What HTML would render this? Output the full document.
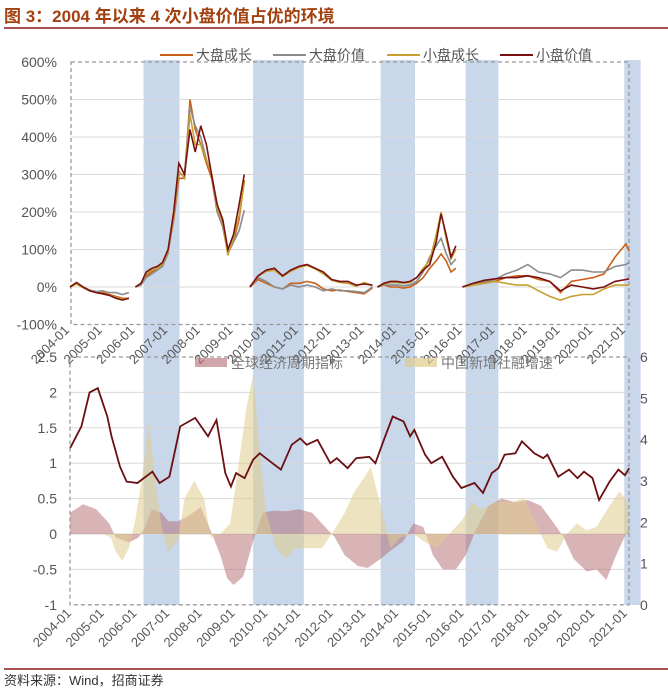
<!DOCTYPE html>
<html><head><meta charset="utf-8"><style>
body{margin:0;background:#fff;}
svg{display:block;font-family:"Liberation Sans","Noto Sans CJK SC",sans-serif;}
</style></head><body>
<svg id="c" width="668" height="691" viewBox="0 0 668 691">
<text x="4" y="22" font-size="17" font-weight="bold" fill="#a3400f">图 3：2004 年以来 4 次小盘价值占优的环境</text>
<line x1="4" y1="28" x2="668" y2="28" stroke="#8b1a1a" stroke-width="1.5"/>
<g id="bands"></g>
<g id="topchart"></g>
<g id="botchart"></g>
<g font-size="14" fill="#555">
<line x1="160" y1="55" x2="193" y2="55" stroke="#c8611a" stroke-width="2"/>
<text x="196" y="60">大盘成长</text>
<line x1="273" y1="55" x2="306" y2="55" stroke="#8c8c8c" stroke-width="2"/>
<text x="309" y="60">大盘价值</text>
<line x1="387" y1="55" x2="420" y2="55" stroke="#c6a030" stroke-width="2"/>
<text x="423" y="60">小盘成长</text>
<line x1="500" y1="55" x2="533" y2="55" stroke="#7a1010" stroke-width="2"/>
<text x="536" y="60">小盘价值</text>
</g>
<line x1="4" y1="669" x2="668" y2="669" stroke="#8b1a1a" stroke-width="1.5"/>
<text x="4" y="685" font-size="13" fill="#333">资料来源：Wind，招商证券</text>
</svg>
<script>
const NS='http://www.w3.org/2000/svg';
// ---- data ----
const bandStarts=[2006.25,2009.6,2013.5,2016.1,2020.95];
const bandEnds=[2007.35,2011.15,2014.55,2017.1,2021.45];
const years=['2004-01','2005-01','2006-01','2007-01','2008-01','2009-01','2010-01','2011-01','2012-01','2013-01','2014-01','2015-01','2016-01','2017-01','2018-01','2019-01','2020-01','2021-01'];
const topTicks=[600,500,400,300,200,100,0,-100];
const leftTicks=[2.5,2,1.5,1,0.5,0,-0.5,-1];
const rightTicks=[6,5,4,3,2,1,0];
// top segments
const seg1Dates=[2004.0,2004.2,2004.4,2004.6,2004.8,2005.0,2005.2,2005.4,2005.6,2005.8];
const seg1LG=[0,10,0,-10,-15,-15,-20,-25,-30,-30];
const seg1LV=[0,10,0,-8,-12,-10,-15,-15,-20,-15];
const seg1SG=[0,8,-2,-10,-15,-18,-22,-28,-33,-30];
const seg1SV=[0,12,0,-10,-15,-18,-22,-30,-35,-30];
const seg2Dates=[2006.0,2006.17,2006.33,2006.5,2006.67,2006.83,2007.0,2007.17,2007.33,2007.5,2007.67,2007.83,2008.0,2008.17,2008.33,2008.5,2008.67,2008.83,2009.0,2009.17,2009.33];
const seg2LG=[0,8,30,40,50,60,95,180,290,290,500,420,380,330,290,200,180,90,120,180,285];
const seg2LV=[0,5,25,35,45,55,90,190,300,300,480,430,400,340,300,200,160,90,120,150,205];
const seg2SG=[0,10,35,45,50,60,95,190,310,290,460,380,380,340,300,210,170,85,130,190,280];
const seg2SV=[0,10,40,50,55,65,100,200,330,300,420,360,430,380,300,220,180,100,140,220,300];
const seg3Dates=[2009.5,2009.75,2010.0,2010.25,2010.5,2010.75,2011.0,2011.25,2011.5,2011.75,2012.0,2012.25,2012.5,2012.75,2013.0,2013.25];
const seg3LG=[0,20,10,0,-5,10,10,15,10,-5,-10,-8,-12,-15,-18,-2];
const seg3LV=[0,25,15,0,-5,5,0,5,0,-10,-5,-10,-10,-12,-15,0];
const seg3SG=[0,28,42,45,28,42,52,58,48,35,18,12,10,2,12,3];
const seg3SV=[0,30,45,50,30,45,55,60,50,40,20,15,15,5,8,5];
const seg4Dates=[2013.4,2013.6,2013.8,2014.0,2014.2,2014.4,2014.6,2014.8,2015.0,2015.2,2015.35,2015.5,2015.65,2015.8];
const seg4LG=[0,5,0,0,-3,0,10,25,50,70,88,70,40,50];
const seg4LV=[0,5,5,5,3,5,15,40,80,110,130,90,60,75];
const seg4SG=[0,8,12,12,10,12,25,50,70,140,200,130,75,100];
const seg4SV=[0,10,15,15,12,15,25,45,60,120,195,140,80,110];
const seg5Dates=[2016.0,2016.33,2016.67,2017.0,2017.33,2017.67,2018.0,2018.33,2018.67,2019.0,2019.33,2019.67,2020.0,2020.33,2020.67,2021.0,2021.1];
const seg5LG=[0,5,12,15,25,30,30,20,15,-15,15,20,25,35,80,115,95];
const seg5LV=[0,8,15,20,35,45,60,40,35,25,45,45,40,40,55,60,65];
const seg5SG=[0,5,10,15,10,5,5,-10,-25,-35,-25,-20,-20,-5,5,5,5];
const seg5SV=[0,10,18,22,25,25,30,25,15,-10,5,0,-5,0,15,20,22];
// bottom
const lineDates=[2004.0,2004.35,2004.6,2004.85,2005.14,2005.27,2005.53,2005.73,2006.06,2006.52,2006.74,2007.04,2007.37,2007.83,2008.22,2008.48,2008.75,2008.92,2009.08,2009.34,2009.6,2009.8,2010.19,2010.45,2010.78,2011.04,2011.24,2011.57,2011.96,2012.16,2012.49,2012.75,2013.15,2013.34,2013.6,2013.87,2014.2,2014.4,2014.53,2014.86,2015.05,2015.38,2015.71,2015.97,2016.37,2016.63,2016.9,2017.1,2017.29,2017.62,2017.82,2018.2,2018.47,2018.6,2018.93,2019.26,2019.52,2019.72,2019.98,2020.18,2020.5,2020.77,2020.97,2021.1];
const lineVals=[1.21,1.52,2.0,2.06,1.66,1.38,0.95,0.74,0.72,0.88,0.72,0.81,1.52,1.64,1.38,1.61,0.86,0.67,0.86,0.79,1.05,1.14,1.0,0.91,1.26,1.35,1.26,1.33,1.0,1.07,0.93,1.07,1.09,1.0,1.33,1.66,1.59,1.38,1.47,1.12,1.0,1.09,0.81,0.65,0.72,0.58,0.86,0.93,1.12,1.14,1.31,1.14,1.07,1.12,0.81,0.91,0.79,0.88,0.79,0.48,0.74,0.91,0.83,0.93];
const globalDates=[2004.0,2004.4,2004.8,2005.2,2005.4,2005.8,2006.1,2006.3,2006.5,2006.8,2007.0,2007.3,2007.6,2008.0,2008.3,2008.6,2008.8,2009.0,2009.3,2009.6,2009.9,2010.2,2010.6,2011.0,2011.4,2011.8,2012.1,2012.4,2012.8,2013.1,2013.5,2013.9,2014.2,2014.5,2014.8,2015.1,2015.4,2015.8,2016.1,2016.4,2016.8,2017.2,2017.6,2018.0,2018.4,2018.8,2019.1,2019.4,2019.8,2020.1,2020.4,2020.7,2021.0,2021.1];
const globalVals=[0.3,0.42,0.35,0.15,-0.05,-0.12,-0.05,0.1,0.35,0.3,0.18,0.18,0.25,0.38,0.05,-0.3,-0.62,-0.72,-0.6,-0.1,0.3,0.33,0.32,0.35,0.3,0.1,-0.05,-0.3,-0.45,-0.48,-0.35,-0.2,-0.1,0.15,0.1,-0.3,-0.5,-0.5,-0.3,0.05,0.4,0.5,0.45,0.48,0.4,0.15,-0.05,-0.35,-0.53,-0.5,-0.65,-0.3,0.0,0.1];
const tsfDates=[2004.0,2005.0,2005.25,2005.4,2005.6,2005.8,2006.0,2006.2,2006.4,2006.6,2006.8,2007.0,2007.3,2007.5,2007.8,2008.1,2008.3,2008.6,2008.9,2009.1,2009.4,2009.6,2009.8,2010.0,2010.3,2010.6,2010.9,2011.3,2011.7,2012.0,2012.4,2012.7,2013.0,2013.2,2013.5,2013.8,2014.1,2014.5,2014.8,2015.2,2015.6,2016.0,2016.3,2016.6,2017.0,2017.5,2017.9,2018.2,2018.6,2018.9,2019.2,2019.5,2019.8,2020.1,2020.5,2020.8,2021.0,2021.1];
const tsfVals=[0,0,-0.05,-0.25,-0.38,-0.2,0.2,0.8,1.6,0.8,0.1,-0.25,-0.1,0.5,0.75,0.5,-0.05,0.0,0.15,0.8,1.8,2.25,1.2,0.3,-0.2,-0.35,-0.2,-0.2,-0.2,0.0,0.3,0.6,0.8,0.95,0.4,-0.2,-0.05,0.0,-0.1,-0.2,0.0,0.2,0.45,0.35,0.45,0.45,0.5,0.2,-0.2,-0.25,0.0,0.15,0.05,0.1,0.4,0.6,0.5,0.3];
// ---- scales ----
const X0=70,XPY=32.7;
function x(d){return X0+(d-2004)*XPY;}
function yT(v){return 287-v*0.375;}
function yB(v){return 534-v*70.8;}
function yR(v){return 605-v*(248/6);}
function mk(tag,attrs,parent){const e=document.createElementNS(NS,tag);for(const k in attrs)e.setAttribute(k,attrs[k]);parent.appendChild(e);return e;}
const bandsG=document.getElementById('bands'),topG=document.getElementById('topchart'),botG=document.getElementById('botchart');
bandStarts.forEach((s,i)=>{
 const r=mk('rect',{x:x(s),y:60,width:x(bandEnds[i])-x(s),height:545,fill:'#c8d7ea'},bandsG);
 
 
});
topTicks.forEach(t=>{
 if(t<600&&t>-100){const g=mk('line',{x1:71,x2:629,y1:yT(t),y2:yT(t),stroke:'#d9d9d9','stroke-width':1},topG);
 
 }
 const tx=mk('text',{x:57,y:yT(t)+5,'text-anchor':'end','font-size':14,fill:'#555'},topG);tx.textContent=t+'%';
 
 
});
const tb=mk('rect',{x:71,y:yT(600),width:558,height:yT(-100)-yT(600),fill:'none',stroke:'#999','stroke-dasharray':'4,3','stroke-width':1.3},topG);


function path(ds,vs,yf){return ds.map((d,i)=>(i?'L':'M')+x(d).toFixed(1)+','+yf(vs[i]).toFixed(1)).join('');}
const segs=[[seg1Dates,seg1LG,seg1LV,seg1SG,seg1SV],[seg2Dates,seg2LG,seg2LV,seg2SG,seg2SV],[seg3Dates,seg3LG,seg3LV,seg3SG,seg3SV],[seg4Dates,seg4LG,seg4LV,seg4SG,seg4SV],[seg5Dates,seg5LG,seg5LV,seg5SG,seg5SV]];
const cols=['#c8611a','#8c8c8c','#c6a030','#7a1010'];
const names=['large-growth-line','large-value-line','small-growth-line','small-value-line'];
segs.forEach(s=>{for(let k=0;k<4;k++){
 const p=mk('path',{d:path(s[0],s[k+1],yT),fill:'none',stroke:cols[k],'stroke-width':1.6},topG);
 
 
}});
years.forEach((y,i)=>{
 const xx=x(2004+i);
 const t=mk('text',{x:xx,y:331,'text-anchor':'end','font-size':13,fill:'#555',transform:'rotate(-45 '+xx+' 331)'},topG);t.textContent=y;
 
 
 const t2=mk('text',{x:xx+2,y:614,'text-anchor':'end','font-size':13,fill:'#555',transform:'rotate(-45 '+(xx+2)+' 614)'},botG);t2.textContent=y;
 
 
});
leftTicks.forEach(t=>{
 if(t<2.5&&t>-1){const g=mk('line',{x1:70,x2:629,y1:yB(t),y2:yB(t),stroke:'#d9d9d9','stroke-width':1},botG);
 
 }
 const tx=mk('text',{x:57,y:yB(t)+5,'text-anchor':'end','font-size':14,fill:'#555'},botG);tx.textContent=String(t);
 
 
});
rightTicks.forEach(t=>{
 const tx=mk('text',{x:640,y:yR(t)+5,'font-size':14,fill:'#555'},botG);tx.textContent=String(t);
 
 
});
function area(ds,vs){return path(ds,vs,yB)+'L'+x(ds[ds.length-1]).toFixed(1)+','+yB(0)+'L'+x(ds[0]).toFixed(1)+','+yB(0)+'Z';}
const a1=mk('path',{d:area(globalDates,globalVals),fill:'rgba(178,105,112,0.5)'},botG);


const a2=mk('path',{d:area(tsfDates,tsfVals),fill:'rgba(222,204,140,0.55)'},botG);


const bl=mk('path',{d:path(lineDates,lineVals,yB),fill:'none',stroke:'#6b0f12','stroke-width':1.8},botG);


const bb=mk('rect',{x:70,y:yB(2.5),width:559,height:yB(-1)-yB(2.5),fill:'none',stroke:'#999','stroke-dasharray':'4,3','stroke-width':1.3},botG);


const s1=mk('rect',{x:195,y:358,width:32,height:9,fill:'rgba(178,105,112,0.6)'},botG);


const l1=mk('text',{x:231,y:368,'font-size':14,fill:'#777'},botG);l1.textContent='全球经济周期指标';


const s2=mk('rect',{x:405,y:358,width:32,height:9,fill:'rgba(222,204,140,0.7)'},botG);


const l2=mk('text',{x:441,y:368,'font-size':14,fill:'#777'},botG);l2.textContent='中国新增社融增速';


</script>
</body></html>
